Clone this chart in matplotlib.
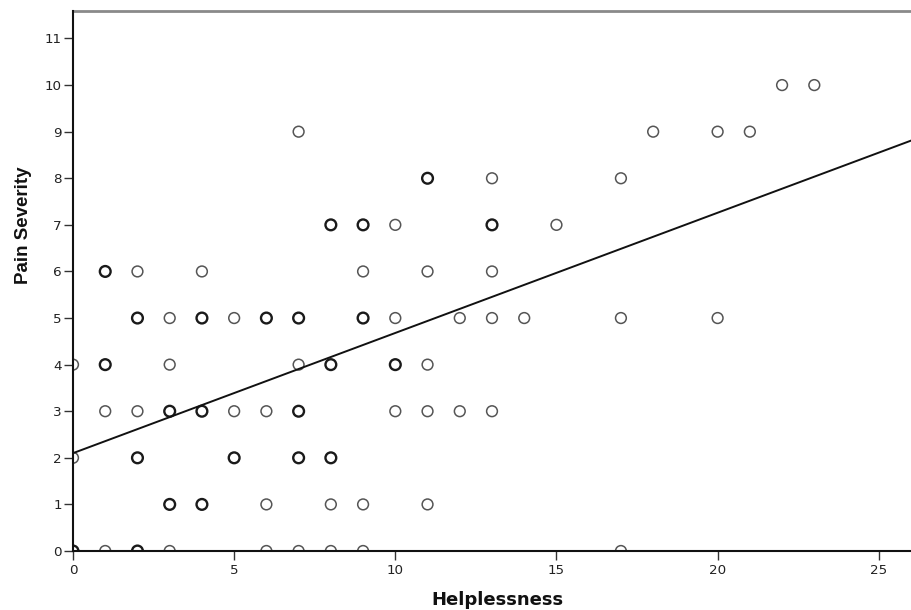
import matplotlib
matplotlib.use("Agg")
import matplotlib.pyplot as plt
import numpy as np

plt.rcParams['font.family'] = ['DejaVu Sans']

# Data: (helplessness, pain severity); overlapping (bold) points listed separately
single_x = [1, 3, 6, 7, 8, 9, 17,
            6, 8, 9, 11,
            0,
            1, 2, 5, 6, 10, 11, 12, 13,
            0, 3, 7, 11,
            3, 5, 10, 12, 13, 14, 17, 20,
            2, 4, 9, 11, 13,
            10, 15,
            13, 17,
            7, 18, 20, 21,
            22, 23]
single_y = [0, 0, 0, 0, 0, 0, 0,
            1, 1, 1, 1,
            2,
            3, 3, 3, 3, 3, 3, 3, 3,
            4, 4, 4, 4,
            5, 5, 5, 5, 5, 5, 5, 5,
            6, 6, 6, 6, 6,
            7, 7,
            8, 8,
            9, 9, 9, 9,
            10, 10]
multi_x = [0, 2,
           3, 4,
           2, 5, 7, 8,
           3, 4, 7,
           1, 8, 10,
           2, 4, 6, 7, 9,
           1,
           8, 9, 13,
           11]
multi_y = [0, 0,
           1, 1,
           2, 2, 2, 2,
           3, 3, 3,
           4, 4, 4,
           5, 5, 5, 5, 5,
           6,
           7, 7, 7,
           8]

fit_intercept = 2.10
fit_slope = 0.258

x_ticks = [0, 5, 10, 15, 20, 25]
y_ticks = list(range(0, 12))

fig = plt.figure(figsize=(9.11, 6.10), dpi=100)
ax = fig.add_axes([73/911, 59/610, 838/911, 540/610])

ax.scatter(single_x, single_y, s=60, facecolors='none', edgecolors='#555555',
           linewidths=1.1, zorder=3)
ax.scatter(multi_x, multi_y, s=60, facecolors='none', edgecolors='#1a1a1a',
           linewidths=1.7, zorder=3)

xl = np.array([0, 26])
ax.plot(xl, fit_intercept + fit_slope * xl, color='#111111', lw=1.4, zorder=4)

ax.set_xlim(0, 26)
ax.set_ylim(0, 11.59)
ax.set_xticks(x_ticks)
ax.set_yticks(y_ticks)
ax.tick_params(axis='both', direction='out', length=6.5, width=1.0,
               colors='#333333', labelsize=9.7, labelcolor='#222222')
ax.tick_params(axis='x', pad=3)
ax.tick_params(axis='y', pad=1.5)

for s in ['left', 'bottom']:
    ax.spines[s].set_color('#111111')
    ax.spines[s].set_linewidth(1.5)
    ax.spines[s].set_zorder(5)
ax.spines['top'].set_color('#8a8a8a')
ax.spines['top'].set_linewidth(2.0)
ax.spines['right'].set_visible(False)

ax.set_xlabel('Helplessness', fontsize=13, fontweight='bold', color='#111111')
ax.xaxis.set_label_coords(0.506, -0.074)
ax.set_ylabel('Pain Severity', fontsize=13.5, fontweight='bold', color='#111111',
              family=['Liberation Sans', 'DejaVu Sans'])
ax.yaxis.set_label_coords(-0.049, 0.604)

fig.savefig('out.png', dpi=100)
